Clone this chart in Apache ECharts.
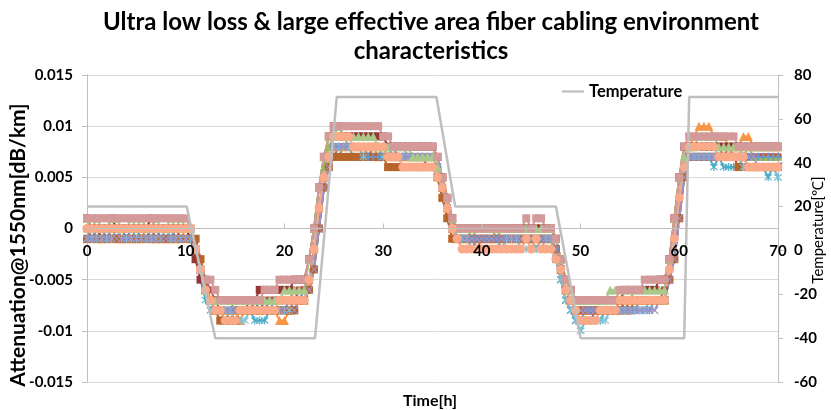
<!DOCTYPE html>
<html>
<head>
<meta charset="utf-8">
<script src="https://cdn.jsdelivr.net/npm/echarts@6/dist/echarts.min.js"></script>
<style>
  html, body { margin: 0; padding: 0; background: #ffffff; }
  #chart { width: 831px; height: 410px; }
</style>
</head>
<body>
<div id="chart"></div>
<script>
// Elapsed time of the cabling environment test [h], one reading every 30 min
const HOURS = [
  0,0.5,1,1.5,2,2.5,3,3.5,4,4.5,5,5.5,6,6.5,7,7.5,8,8.5,9,9.5,10,
  10.5,11,11.5,12,12.5,13,
  13.5,14,14.5,15,15.5,16,16.5,17,17.5,18,18.5,19,19.5,20,20.5,21,21.5,22,
  22.5,23,23.5,24,24.5,
  25,25.5,26,26.5,27,27.5,28,28.5,29,29.5,30,30.5,31,31.5,32,32.5,33,33.5,34,34.5,
  35,35.5,36,36.5,37,
  37.5,38,38.5,39,39.5,40,40.5,41,41.5,42,42.5,43,43.5,44,44.5,45,45.5,46,46.5,
  47,47.5,48,48.5,49,49.5,
  50,50.5,51,51.5,52,52.5,53,53.5,54,54.5,55,55.5,56,56.5,57,57.5,58,58.5,
  59,59.5,60,60.5,
  61,61.5,62,62.5,63,63.5,64,64.5,65,65.5,66,66.5,67,67.5,68,68.5,69,69.5,70
];

// Attenuation change at 1550 nm for each fiber, in units of 0.001 dB/km
const lossBlue = [
  0,0,-1,0,0, 0,-1,0,0,0, 0,-1,0,0,0, -1,0,0,0,0, 0,
  0,-2,-4,-6,-7,-8,
  -8,-8,-8,-8,-8, -8,-8,-8,-7,-8, -7,-7,-7,-7,-7, -6,-7,-6,
  -5,-2,2,5,7,
  8,8,8,8,8, 8,8,8,8,8, 8,7,8,7,7, 7,7,7,7,7,
  7,6,4,2,0,
  -1,-1,-1,-1,-1, -1,-1,-1,-1,-1, -1,-1,-1,-1,-1, -1,-1,-1,-1,
  -1,-2,-4,-6,-7,-8,
  -8,-8,-8,-8,-8, -8,-8,-8,-8,-7, -7,-7,-7,-7,-7, -7,-7,-7,
  -4,-1,3,6,
  7,7,7,7,7, 7,7,7,7,7, 7,7,7,7,7, 7,7,7,7
];
const lossRed = [
  -1,-1,0,-1,-1, -1,-1,0,-1,-1, -1,-1,-1,0,-1, -1,-1,-1,0,-1, -1,
  -1,-1,-3,-5,-6,-7,
  -8,-8,-8,-8,-8, -8,-7,-8,-8,-7, -7,-7,-7,-7,-7, -7,-6,-6,
  -5,-2,2,5,7,
  8,8,8,8,8, 8,8,7,8,8, 7,7,7,7,7, 7,7,7,7,6,
  6,5,3,1,-1,
  -1,-1,-1,-1,-2, -1,-1,-1,-1,-1, -1,-1,-1,-1,-1, -1,-1,-1,-1,
  -1,-2,-4,-6,-7,-8,
  -8,-8,-8,-8,-8, -8,-8,-8,-7,-8, -7,-7,-7,-7,-7, -7,-7,-6,
  -4,-1,3,6,
  8,8,8,8,8, 8,8,7,8,7, 7,7,7,7,7, 7,7,7,7
];
const lossGreen = [
  0,0,0,0,0, 0,0,0,0,0, 0,0,0,0,0, 0,0,0,0,0, 0,
  0,-2,-4,-6,-7,-8,
  -8,-8,-8,-7,-7, -7,-7,-7,-7,-7, -7,-7,-7,-7,-7, -6,-6,-6,
  -3,0,4,6,8,
  9,9,9,8,8, 8,8,8,8,8, 8,8,8,8,8, 7,7,7,7,7,
  7,6,4,2,0,
  0,0,0,-1,0, 0,0,0,-1,0, 0,0,0,0,0, 0,0,0,0,
  0,-1,-3,-5,-6,-7,
  -7,-7,-7,-7,-7, -7,-7,-7,-7,-7, -7,-6,-6,-6,-6, -6,-6,-6,
  -3,1,5,7,
  8,8,8,8,8, 8,8,8,8,8, 8,7,8,7,7, 7,7,7,7
];
const lossPurple = [
  -1,-1,-1,-1,-1, -1,-1,-1,-1,-1, -1,-1,-1,-1,-1, -1,-1,-1,-1,-1, -1,
  -1,-2,-4,-6,-7,-8,
  -8,-9,-9,-8,-8, -8,-8,-8,-8,-8, -8,-8,-8,-8,-7, -7,-7,-7,
  -6,-4,0,4,6,
  7,8,8,8,8, 8,8,7,7,7, 7,7,7,7,7, 7,7,7,7,7,
  7,6,4,2,0,
  -1,-1,-1,-1,-1, -1,-1,-1,-1,-1, -1,-1,-1,-1,-1, -1,-1,-1,-1,
  -1,-3,-5,-7,-8,-9,
  -9,-9,-9,-8,-8, -8,-8,-8,-8,-8, -8,-8,-8,-8,-7, -7,-7,-7,
  -5,-3,1,5,
  7,7,7,7,7, 7,7,7,7,7, 6,7,6,6,6, 6,6,6,6
];
const lossAqua = [
  0,-1,-1,-1,0, -1,-1,-1,-1,-1, 0,-1,-1,-1,-1, -1,-1,0,-1,-1, -1,
  -1,-3,-5,-7,-8,-8,
  -9,-9,-8,-8,-8, -8,-8,-9,-9,-9, -8,-8,-8,-8,-8, -8,-7,-7,
  -6,-4,0,4,6,
  7,7,8,8,7, 7,7,7,7,7, 7,7,7,7,7, 7,7,7,7,7,
  7,6,5,3,1,
  -1,-1,-1,-2,-1, -1,-1,-1,-1,-2, -1,-1,-1,-1,-1, -1,-2,-1,-1,
  -1,-3,-5,-7,-8,-9,
  -10,-9,-9,-9,-9, -8,-8,-8,-8,-8, -8,-8,-8,-8,-8, -7,-7,-7,
  -5,-3,1,5,
  7,7,7,7,7, 6,7,6,6,6, 6,6,6,6,6, 6,5,6,5
];
const lossOrange = [
  -1,0,-1,-1,-1, 0,-1,-1,-1,-1, -1,-1,0,-1,-1, -1,-1,-1,-1,-1, 0,
  -1,-2,-4,-6,-7,-8,
  -8,-8,-8,-8,-9, -8,-8,-8,-8,-8, -8,-8,-9,-9,-8, -7,-7,-7,
  -5,-2,2,5,7,
  8,8,8,8,8, 8,8,8,8,7, 8,7,7,7,7, 7,7,7,7,7,
  7,6,4,2,0,
  -1,-1,-1,-1,-1, -1,-1,-1,-1,-1, -1,-1,-1,-1,-1, -1,-1,-1,-1,
  -1,-2,-4,-6,-7,-8,
  -8,-8,-8,-8,-8, -8,-8,-8,-7,-7, -7,-7,-7,-7,-7, -7,-7,-7,
  -3,1,5,7,
  8,9,10,10,10, 9,9,9,8,8, 8,9,9,8,8, 8,8,8,8
];
const lossDarkRed = [
  1,0,0,0,0, 1,0,0,0,0, 0,0,0,1,0, 0,0,0,0,0, 0,
  -1,-3,-5,-6,-7,-7,
  -7,-7,-7,-7,-7, -7,-7,-7,-6,-6, -6,-6,-6,-6,-6, -5,-5,-5,
  -3,0,4,7,9,
  10,10,9,9,9, 9,9,9,9,9, 9,8,8,8,8, 8,8,8,8,8,
  8,7,5,3,1,
  0,0,0,0,0, 0,0,0,0,0, 0,0,0,0,0, 0,0,0,0,
  0,-1,-3,-5,-6,-7,
  -7,-7,-7,-7,-7, -7,-7,-7,-7,-6, -6,-6,-6,-6,-6, -6,-5,-5,
  -3,1,5,8,
  8,8,8,8,8, 8,8,8,8,8, 8,8,8,8,8, 8,8,8,8
];
const lossBrown = [
  -1,-1,-1,-1,-1, -1,-1,-1,-1,-1, -1,-1,-1,-1,-1, -1,-1,-1,-1,-1, -1,
  -1,-1,-3,-5,-7,-8,
  -9,-9,-9,-9,-8, -8,-8,-8,-8,-8, -8,-8,-8,-8,-8, -8,-7,-7,
  -6,-4,0,4,6,
  7,7,7,7,7, 7,7,7,7,7, 7,6,6,6,6, 6,6,6,6,6,
  6,5,3,1,-1,
  -1,-1,-1,-1,-1, -1,-1,-1,-1,-1, -1,-1,-1,-1,-1, -1,-1,-1,-1,
  -1,-2,-4,-6,-7,-8,
  -8,-8,-8,-8,-8, -8,-8,-8,-8,-8, -8,-7,-7,-7,-7, -7,-7,-7,
  -5,-3,1,5,
  7,7,7,7,7, 7,7,7,7,7, 6,7,6,6,6, 6,6,6,6
];
const lossSteel = [
  0,-1,0,0,-1, 0,0,0,-1,0, 0,0,0,-1,0, 0,0,-1,0,0, 0,
  0,-2,-4,-6,-7,-8,
  -8,-8,-8,-8,-8, -8,-8,-8,-8,-8, -8,-7,-7,-7,-7, -7,-7,-7,
  -5,-2,2,5,7,
  8,8,8,8,8, 8,7,7,7,7, 7,7,7,7,7, 7,7,7,7,7,
  7,6,4,2,0,
  -1,-1,-1,-1,-1, -1,-1,-1,-1,-1, -1,-1,-1,-1,-1, -1,-1,-1,-1,
  -1,-2,-4,-6,-7,-8,
  -9,-8,-8,-8,-8, -8,-8,-8,-8,-8, -8,-8,-7,-7,-7, -7,-7,-7,
  -4,-1,3,6,
  7,7,7,7,7, 7,7,7,7,7, 7,7,7,7,7, 7,7,7,7
];
const lossLightAqua = [
  -1,-1,-1,-1,-1, -1,0,-1,-1,-1, -1,-1,-1,-1,-1, -1,0,-1,-1,-1, -1,
  -1,-2,-4,-6,-7,-8,
  -8,-8,-8,-9,-9, -9,-8,-8,-8,-8, -8,-8,-8,-8,-8, -7,-7,-7,
  -5,-2,2,5,7,
  8,8,8,8,8, 8,7,8,8,8, 7,7,7,7,7, 7,7,7,7,7,
  7,6,4,2,0,
  -1,-1,-1,-2,-2, -2,-2,-2,-2,-2, -1,-1,-1,-2,-2, -2,-2,-2,-1,
  -1,-3,-5,-7,-8,-9,
  -10,-9,-9,-9,-9, -9,-8,-8,-8,-8, -8,-8,-8,-8,-7, -7,-7,-7,
  -4,-1,3,6,
  7,7,7,7,7, 7,7,7,7,7, 7,6,6,6,6, 6,6,6,5
];
const lossLavender = [
  -1,-1,-1,-1,-1, -1,-1,-1,-1,-1, -1,-1,-1,-1,-1, -1,-1,-1,-1,-1, -1,
  -1,-2,-4,-6,-7,-8,
  -8,-8,-8,-8,-8, -8,-8,-8,-8,-8, -8,-8,-8,-8,-7, -8,-7,-7,
  -6,-4,0,4,6,
  8,8,8,8,8, 8,8,8,8,8, 8,8,7,7,7, 7,7,7,7,7,
  7,6,4,2,0,
  -1,-1,-1,-1,-1, -1,-1,-1,-1,-1, -1,-1,-1,-1,-1, -1,-1,-1,-1,
  -1,-2,-4,-6,-7,-8,
  -8,-8,-8,-8,-8, -8,-8,-8,-8,-8, -8,-8,-8,-8,-8, -8,-7,-7,
  -5,-3,1,5,
  7,7,7,7,7, 7,7,7,7,7, 7,7,7,7,6, 6,6,6,6
];
const lossLightGreen = [
  1,0,1,0,0, 1,1,0,0,1, 0,1,0,0,1, 0,0,1,0,1, 0,
  0,-2,-4,-6,-7,-7,
  -7,-7,-7,-7,-7, -7,-7,-7,-7,-7, -7,-7,-7,-6,-6, -6,-6,-6,
  -3,0,4,7,9,
  9,10,9,9,9, 9,9,9,9,8, 8,8,8,8,8, 8,7,7,7,7,
  7,6,5,3,1,
  0,0,0,0,0, 0,0,0,0,0, 0,0,0,0,0, 0,0,0,0,
  0,-1,-3,-5,-6,-7,
  -7,-7,-7,-7,-7, -7,-6,-6,-6,-6, -6,-6,-6,-6,-6, -6,-6,-6,
  -3,1,5,7,
  8,8,9,9,9, 9,8,8,8,8, 8,8,8,8,8, 8,8,8,8
];
const lossPink = [
  1,1,1,1,1, 1,1,1,1,1, 1,1,1,1,1, 1,1,1,1,1, 1,
  0,-2,-4,-5,-5,-6,
  -7,-7,-7,-7,-7, -7,-7,-7,-7,-6, -6,-6,-5,-5,-5, -5,-5,-5,
  -3,0,4,7,9,
  10,10,10,10,10, 10,10,10,10,10, 9,9,8,8,8, 8,8,8,8,8,
  8,7,5,3,1,
  0,0,0,0,0, 0,0,0,0,0, 0,0,0,0,1, 0,1,1,0,
  0,-1,-3,-5,-6,-7,
  -7,-7,-7,-7,-7, -7,-7,-7,-6,-6, -6,-6,-6,-5,-5, -5,-5,-5,
  -3,1,5,8,
  9,9,9,9,9, 9,9,9,9,9, 8,8,8,8,8, 8,8,8,8
];
const lossPeach = [
  0,0,0,0,0, 0,0,0,0,0, 0,0,0,0,0, 0,0,0,0,0, 0,
  0,-2,-4,-6,-7,-8,
  -8,-9,-9,-9,-8, -8,-8,-8,-8,-8, -8,-8,-7,-7,-7, -7,-7,-7,
  -5,-2,2,5,7,
  9,9,9,9,8, 8,8,8,8,8, 8,7,7,7,6, 6,6,6,6,6,
  6,5,4,2,0,
  -1,-2,-2,-2,-2, -2,-2,-2,-2,-2, -2,-2,-2,-2,-1, -2,-1,-2,-2,
  -2,-3,-4,-6,-7,-8,
  -9,-9,-9,-9,-8, -8,-8,-8,-7,-7, -7,-7,-7,-7,-7, -7,-7,-7,
  -4,-1,3,6,
  8,8,8,8,8, 8,7,7,7,7, 7,7,6,6,6, 6,6,6,6
];

// Chamber temperature profile [°C]
const TEMP_HOURS = [0, 10.1, 13, 23.1, 25.3, 35.4, 37.3, 47.5, 50, 60.5, 61, 70];
const TEMP_C     = [20, 20, -40, -40, 70, 70, 20, 20, -40, -40, 70, 70];

// Axis ticks
const LOSS_TICKS = { min: -0.015, max: 0.015, step: 0.005 };
const TEMP_TICKS = { min: -60, max: 80, step: 20 };
const TIME_TICKS = { min: 0, max: 70, step: 10 };

const LOSS_UNIT = 0.001;

const MARK_X = 'path://M1,0L5,4L9,0L10,1L6,5L10,9L9,10L5,6L1,10L0,9L4,5L0,1Z';
const MARK_STAR = 'path://M1,0L5,4L9,0L10,1L6,5L10,9L9,10L5,6L1,10L0,9L4,5L0,1Z M4.3,-1L5.7,-1L5.7,11L4.3,11Z';
const MARK_PLUS = 'path://M4,0H6V4H10V6H6V10H4V6H0V4H4Z';

const fibers = [
  { values: lossBlue,       color: '#4F81BD', symbol: 'diamond',  size: 8 },
  { values: lossRed,        color: '#C0504D', symbol: 'rect',     size: 7 },
  { values: lossGreen,      color: '#9BBB59', symbol: 'triangle', size: 8 },
  { values: lossPurple,     color: '#8064A2', symbol: MARK_X,     size: 8 },
  { values: lossAqua,       color: '#4BACC6', symbol: MARK_STAR,  size: 8 },
  { values: lossOrange,     color: '#F79646', symbol: 'triangle', size: 9 },
  { values: lossDarkRed,    color: '#953735', symbol: 'rect',     size: 8 },
  { values: lossBrown,      color: '#B8652C', symbol: 'rect',     size: 8 },
  { values: lossSteel,      color: '#6E94C6', symbol: MARK_PLUS,  size: 8 },
  { values: lossLightAqua,  color: '#7FC4D8', symbol: MARK_STAR,  size: 8 },
  { values: lossLavender,   color: '#A191C9', symbol: MARK_X,     size: 8 },
  { values: lossLightGreen, color: '#A9C88A', symbol: 'triangle', size: 9 },
  { values: lossPink,       color: '#D49A9A', symbol: 'rect',     size: 8 },
  { values: lossPeach,      color: '#FAAA88', symbol: 'circle',   size: 9 }
];

fibers.forEach(function (f, i) {
  if (f.values.length !== HOURS.length) {
    throw new Error('fiber ' + (i + 1) + ' has ' + f.values.length + ' readings');
  }
});

const FONT = 'Lato, "Open Sans", sans-serif';

// Plot area of the chart, in px
const PLOT = { left: 87, right: 53, top: 75, bottom: 28 };
const PLOT_H = 410 - PLOT.top - PLOT.bottom;

const series = fibers.map(function (f, i) {
  return {
    name: 'Fiber ' + (i + 1),
    type: 'line',
    yAxisIndex: 0,
    data: HOURS.map(function (h, k) { return [h, f.values[k] * LOSS_UNIT]; }),
    symbol: f.symbol,
    symbolSize: f.size,
    showAllSymbol: true,
    lineStyle: { color: f.color, width: 2 },
    itemStyle: { color: f.color },
    emphasis: { disabled: true },
    z: 2
  };
});

series.push({
  name: 'Temperature',
  type: 'line',
  yAxisIndex: 1,
  data: TEMP_HOURS.map(function (h, k) { return [h, TEMP_C[k]]; }),
  showSymbol: false,
  lineStyle: { color: '#BFBFBF', width: 2.5 },
  itemStyle: { color: '#BFBFBF' },
  emphasis: { disabled: true },
  z: 5
});

const chart = echarts.init(document.getElementById('chart'), null, { renderer: 'canvas' });
chart.setOption({
  animation: false,
  backgroundColor: '#ffffff',
  grid: { left: PLOT.left, right: PLOT.right, top: PLOT.top, bottom: PLOT.bottom, containLabel: false },
  legend: {
    data: [{ name: 'Temperature', icon: 'path://M0,0H20V2H0Z' }],
    left: 557, top: 78,
    itemWidth: 22, itemHeight: 3, itemGap: 4,
    textStyle: { fontFamily: FONT, fontWeight: 'bold', fontSize: 16.5, color: '#000' },
    selectedMode: false
  },
  xAxis: {
    type: 'value',
    z: 10,
    min: TIME_TICKS.min, max: TIME_TICKS.max, interval: TIME_TICKS.step,
    // the time axis crosses the attenuation axis at zero (middle of the plot)
    offset: -PLOT_H / 2,
    axisLine: { onZero: false, lineStyle: { color: '#BFBFBF', width: 1 } },
    axisTick: { show: true, inside: true, length: 5, lineStyle: { color: '#BFBFBF' } },
    axisLabel: { margin: 15, color: '#000', fontFamily: FONT, fontWeight: 'bold', fontSize: 15 },
    splitLine: { show: false }
  },
  yAxis: [
    {
      type: 'value',
      min: LOSS_TICKS.min, max: LOSS_TICKS.max, interval: LOSS_TICKS.step,
      axisLine: { show: true, lineStyle: { color: '#BFBFBF' } },
      axisTick: { show: true, length: 5, lineStyle: { color: '#BFBFBF' } },
      axisLabel: {
        margin: 14, color: '#000', fontFamily: FONT, fontWeight: 'bold', fontSize: 15,
        formatter: function (v) { return String(Math.round(v * 1000) / 1000); }
      },
      splitLine: { show: true, lineStyle: { color: '#D9D9D9', width: 1 } }
    },
    {
      type: 'value',
      position: 'right',
      min: TEMP_TICKS.min, max: TEMP_TICKS.max, interval: TEMP_TICKS.step,
      axisLine: { show: true, lineStyle: { color: '#BFBFBF' } },
      axisTick: { show: true, length: 5, lineStyle: { color: '#BFBFBF' } },
      axisLabel: { margin: 16, color: '#000', fontFamily: FONT, fontWeight: 'bold', fontSize: 15 },
      splitLine: { show: false }
    }
  ],
  graphic: [
    {
      type: 'text', x: 431, y: 22,
      style: {
        text: 'Ultra low loss & large effective area fiber cabling environment',
        font: 'bold 24px ' + FONT, fill: '#000', align: 'center', verticalAlign: 'middle'
      }
    },
    {
      type: 'text', x: 431, y: 51,
      style: {
        text: 'characteristics',
        font: 'bold 24px ' + FONT, fill: '#000', align: 'center', verticalAlign: 'middle'
      }
    },
    {
      type: 'text', x: 18, y: 245, rotation: Math.PI / 2,
      style: {
        text: 'Attenuation@1550nm[dB/km]',
        font: 'bold 21px ' + FONT, fill: '#000', align: 'center', verticalAlign: 'middle'
      }
    },
    {
      type: 'text', x: 818, y: 230, rotation: Math.PI / 2,
      style: {
        text: 'Temperature[℃]',
        font: '15px ' + FONT, fill: '#000', align: 'center', verticalAlign: 'middle'
      }
    },
    {
      type: 'text', x: 430, y: 401,
      style: {
        text: 'Time[h]',
        font: 'bold 16px ' + FONT, fill: '#000', align: 'center', verticalAlign: 'middle'
      }
    }
  ],
  series: series
});
</script>
</body>
</html>
